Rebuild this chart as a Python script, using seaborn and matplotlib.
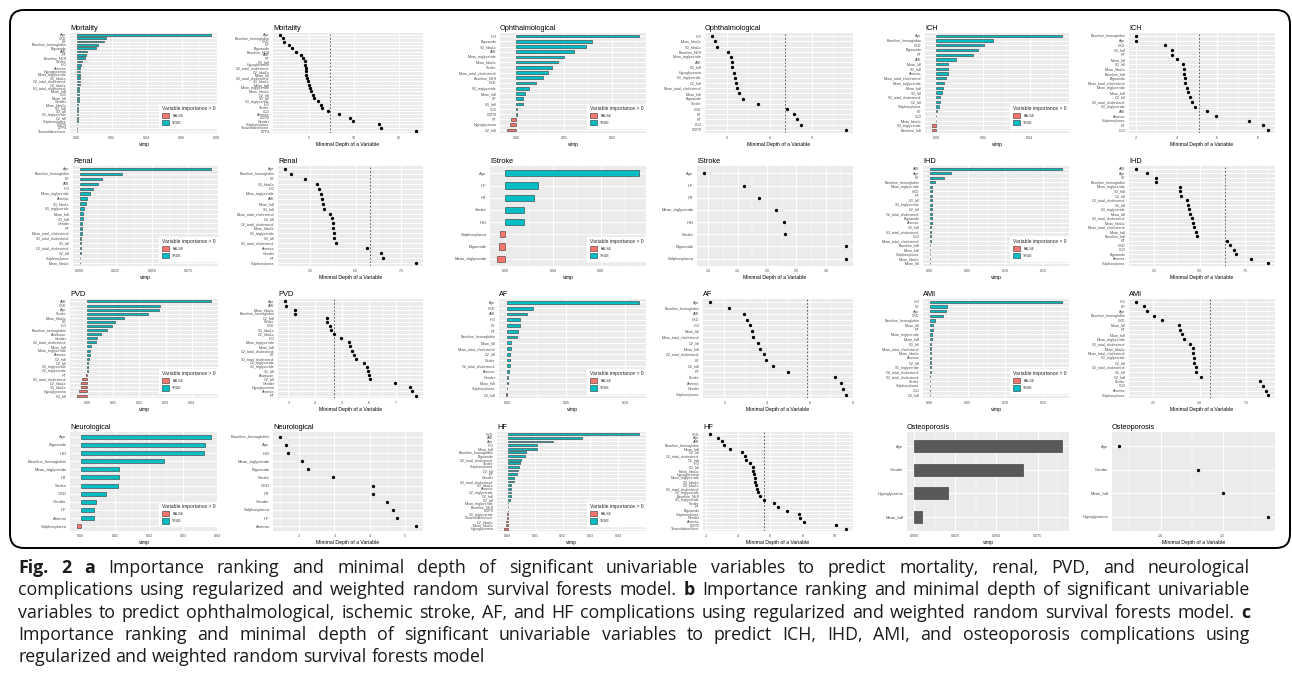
import matplotlib
matplotlib.use('Agg')
import matplotlib.pyplot as plt
from matplotlib.patches import Patch, FancyBboxPatch
import numpy as np
import pandas as pd
import seaborn as sns

# ---- data ----
# Mortality
MORT_VIMP_NAMES = ['Age', 'CKD', 'HF', 'Baseline_hemoglobin', 'Biguanide', 'AMI', 'HT', 'Baseline_NLR',
                   'Stroke', 'IHD', 'Anemia', 'Hypoglycemia', 'Mean_triglyceride', 'SD_hba1c',
                   'CV_total_cholesterol', 'CV_hba1c', 'SD_total_cholesterol', 'Mean_hdl', 'CLD', 'Mean_ldl',
                   'Gender', 'Mean_hba1c', 'SD_hdl', 'SD_ldl', 'SD_triglyceride', 'CV_ldl', 'Sulphonylurea',
                   'COPD', 'DPP4', 'Thiazolidinedione']
MORT_VIMP = [0.077, 0.017, 0.0155, 0.012, 0.0113, 0.006, 0.0055, 0.0045, 0.0028, 0.0024, 0.0021, 0.0020,
             0.0019, 0.0018, 0.0017, 0.0016, 0.0015, 0.0014, 0.0013, 0.0012, 0.0011, 0.0010, 0.0009, 0.0008,
             0.0007, 0.0006, 0.0005, 0.0004, 0.0003, 0.0002]
MORT_DEPTH_NAMES = ['Age', 'Baseline_hemoglobin', 'CKD', 'HF', 'Biguanide', 'Baseline_NLR', 'AMI', 'HT',
                    'SD_hdl', 'Hypoglycemia', 'CV_total_cholesterol', 'CV_hba1c', 'Mean_ldl',
                    'SD_total_cholesterol', 'SD_hba1c', 'Mean_hdl', 'Mean_triglyceride', 'Mean_hba1c',
                    'CV_ldl', 'SD_ldl', 'SD_triglyceride', 'IHD', 'Stroke', 'CLD', 'Anemia', 'COPD', 'Gender',
                    'Sulphonylurea', 'Thiazolidinedione', 'DPP4']
MORT_DEPTH = [1.8, 2.2, 2.25, 2.8, 3.2, 3.6, 4.15, 4.35, 4.55, 4.6, 4.65, 4.7, 4.75, 4.8, 4.9, 5.0, 5.1,
              5.3, 5.45, 5.6, 6.05, 6.4, 6.45, 7.1, 8.3, 9.6, 9.9, 12.8, 13.0, 16.9]
MORT_THRESHOLD = 7.4
MORT_VIMP_TICKS = ['0.00', '0.02', '0.04', '0.06', '0.08']
MORT_DEPTH_TICKS = ['5', '10', '15']

# Ophthalmological
OPH_VIMP_NAMES = ['IHD', 'Biguanide', 'SD_hba1c', 'AMI', 'Mean_triglyceride', 'Mean_hba1c', 'Stroke',
                  'Mean_total_cholesterol', 'Baseline_NLR', 'CKD', 'SD_triglyceride', 'Mean_hdl', 'HF',
                  'SD_hdl', 'CLD', 'COPD', 'HT', 'Hypoglycemia', 'CV_hdl']
OPH_VIMP = [0.0256, 0.0158, 0.0146, 0.0121, 0.0099, 0.0087, 0.0075, 0.0065, 0.0056, 0.0041, 0.0026,
            0.0018, 0.0015, 0.0014, 0.0002, 0.0001, -0.0010, -0.0012, -0.0020]
OPH_DEPTH_NAMES = ['IHD', 'Mean_hba1c', 'SD_hba1c', 'Baseline_NLR', 'Mean_triglyceride', 'AMI', 'SD_hdl',
                   'Hypoglycemia', 'SD_triglyceride', 'CV_hdl', 'Mean_total_cholesterol', 'Mean_hdl',
                   'Biguanide', 'Stroke', 'CKD', 'HF', 'HT', 'CLD', 'COPD']
OPH_DEPTH = [1.9, 2.1, 2.3, 3.05, 3.25, 3.3, 3.35, 3.5, 3.55, 3.6, 3.65, 3.8, 4.1, 5.2, 7.2, 7.7, 7.9,
             8.2, 11.4]
OPH_THRESHOLD = 7.1
OPH_VIMP_TICKS = ['0.00', '0.01', '0.02']
OPH_DEPTH_TICKS = ['3', '6', '9']

# ICH
ICH_VIMP_NAMES = ['Age', 'Baseline_hemoglobin', 'CKD', 'Biguanide', 'HT', 'AMI', 'Mean_ldl', 'SD_hdl',
                  'Anemia', 'Mean_total_cholesterol', 'Mean_triglyceride', 'Mean_hdl', 'SD_ldl',
                  'SD_total_cholesterol', 'CV_ldl', 'Sulphonylurea', 'HF', 'CLD', 'Mean_hba1c',
                  'SD_triglyceride', 'Baseline_hdl']
ICH_VIMP = [0.054, 0.0243, 0.0204, 0.0179, 0.0157, 0.0085, 0.0052, 0.0051, 0.0050, 0.0043, 0.0034,
            0.0028, 0.0023, 0.0018, 0.0017, 0.0011, 0.0003, 0.0001, -0.0003, -0.0018, -0.0020]
ICH_DEPTH_NAMES = ['Baseline_hemoglobin', 'Age', 'CKD', 'SD_hdl', 'HT', 'Mean_ldl', 'SD_ldl', 'Mean_hba1c',
                   'Baseline_hdl', 'Biguanide', 'Mean_total_cholesterol', 'Mean_triglyceride', 'Mean_hdl',
                   'CV_ldl', 'SD_total_cholesterol', 'SD_triglyceride', 'AMI', 'Anemia', 'Sulphonylurea',
                   'HF', 'CLD']
ICH_DEPTH = [2.0, 2.0, 3.45, 3.8, 3.8, 4.05, 4.3, 4.35, 4.38, 4.4, 4.42, 4.5, 4.55, 4.65, 4.75, 4.9, 5.5,
             5.95, 7.55, 8.25, 8.5]
ICH_THRESHOLD = 5.1
ICH_VIMP_TICKS = ['0.00', '0.02', '0.04']
ICH_DEPTH_TICKS = ['2', '4', '6', '8']

# Renal
REN_VIMP_NAMES = ['Age', 'Baseline_hemoglobin', 'HF', 'AMI', 'IHD', 'Mean_triglyceride', 'Anemia',
                  'SD_hba1c', 'SD_triglyceride', 'Mean_hdl', 'SD_hdl', 'Gender', 'HT',
                  'Mean_total_cholesterol', 'SD_total_cholesterol', 'SD_ldl', 'CV_total_cholesterol',
                  'CV_ldl', 'Sulphonylurea', 'Mean_hba1c']
REN_VIMP = [0.091, 0.029, 0.0155, 0.013, 0.0093, 0.0075, 0.0053, 0.0045, 0.003, 0.0025, 0.0023, 0.002,
            0.0018, 0.0014, 0.0013, 0.0011, 0.001, 0.0009, 0.0005, 0.0003]
REN_DEPTH_NAMES = ['Age', 'Baseline_hemoglobin', 'HF', 'SD_hba1c', 'IHD', 'Mean_triglyceride', 'AMI',
                   'Mean_hdl', 'SD_hdl', 'Mean_total_cholesterol', 'CV_ldl', 'CV_total_cholesterol',
                   'Mean_hba1c', 'SD_triglyceride', 'SD_ldl', 'SD_total_cholesterol', 'Anemia', 'Gender',
                   'HT', 'Sulphonylurea']
REN_DEPTH = [1.07, 1.44, 2.22, 2.88, 2.99, 3.1, 3.16, 3.2, 3.25, 3.6, 3.67, 3.73, 3.76, 3.78, 3.81, 3.9,
             5.6, 6.4, 6.5, 8.35]
REN_THRESHOLD = 5.8
REN_VIMP_TICKS = ['0.000', '0.025', '0.050', '0.075']
REN_DEPTH_TICKS = ['2.5', '5.0', '7.5']

# IStroke
IST_VIMP_NAMES = ['Age', 'HF', 'HT', 'Stroke', 'IHD', 'Sulphonylurea', 'Biguanide', 'Mean_triglyceride']
IST_VIMP = [0.112, 0.0277, 0.024, 0.0158, 0.0157, -0.0042, -0.0055, -0.007]
IST_DEPTH_NAMES = ['Age', 'HF', 'HT', 'Mean_triglyceride', 'IHD', 'Stroke', 'Biguanide', 'Sulphonylurea']
IST_DEPTH = [0.93, 1.6, 1.87, 2.16, 2.28, 2.31, 3.34, 3.34]
IST_THRESHOLD = None
IST_VIMP_TICKS = ['0.00', '0.04', '0.08']
IST_DEPTH_TICKS = ['1.0', '1.5', '2.0', '2.5', '3.0']

# IHD
IHD_VIMP_NAMES = ['AMI', 'Age', 'HF', 'Baseline_hemoglobin', 'Mean_triglyceride', 'CKD', 'HT', 'SD_ldl',
                  'SD_triglyceride', 'CV_ldl', 'CV_total_cholesterol', 'Biguanide', 'Anemia', 'SD_hdl',
                  'SD_total_cholesterol', 'CLD', 'Mean_total_cholesterol', 'Baseline_hdl', 'Mean_hdl',
                  'Sulphonylurea', 'Mean_hba1c', 'Mean_ldl']
IHD_VIMP = [0.175, 0.0276, 0.0193, 0.007, 0.0036, 0.0035, 0.0032, 0.0031, 0.003, 0.0029, 0.0028, 0.0026,
            0.0025, 0.0021, 0.002, 0.0016, 0.0013, 0.0011, 0.001, 0.0008, 0.0006, 0.0005]
IHD_DEPTH_NAMES = ['AMI', 'Age', 'HF', 'Baseline_hemoglobin', 'Mean_triglyceride', 'SD_hdl', 'CV_ldl',
                   'CV_total_cholesterol', 'SD_ldl', 'SD_triglyceride', 'Mean_ldl', 'SD_total_cholesterol',
                   'Mean_hba1c', 'Mean_total_cholesterol', 'Mean_hdl', 'Baseline_hdl', 'HT', 'CKD', 'CLD',
                   'Biguanide', 'Anemia', 'Sulphonylurea']
IHD_DEPTH = [1.5, 2.1, 2.6, 2.6, 3.9, 3.95, 4.0, 4.3, 4.37, 4.4, 4.45, 4.6, 4.65, 4.7, 4.8, 4.85, 6.5,
             6.65, 6.9, 7.0, 7.8, 8.75]
IHD_THRESHOLD = 6.4
IHD_VIMP_TICKS = ['0.00', '0.05', '0.10', '0.15']
IHD_DEPTH_TICKS = ['2.5', '5.0', '7.5']

# PVD
PVD_VIMP_NAMES = ['AMI', 'CKD', 'Age', 'Stroke', 'Mean_hba1c', 'HF', 'IHD', 'Baseline_hemoglobin',
                  'Acarbose', 'Gender', 'CV_total_cholesterol', 'Mean_hdl', 'Mean_triglyceride', 'Anemia',
                  'CV_hdl', 'CV_ldl', 'SD_triglyceride', 'CV_triglyceride', 'HT', 'SD_total_cholesterol',
                  'CV_hba1c', 'SD_hba1c', 'Hypoglycemia', 'SD_ldl']
PVD_VIMP = [0.0475, 0.0278, 0.0274, 0.0233, 0.0141, 0.0107, 0.0096, 0.0074, 0.0051, 0.0039, 0.0035,
            0.0014, 0.0011, 0.0009, 0.0006, 0.0005, 0.0004, 0.0003, -0.0006, -0.0018, -0.0023, -0.0025,
            -0.0030, -0.0040]
PVD_DEPTH_NAMES = ['Age', 'AMI', 'Mean_hba1c', 'Baseline_hemoglobin', 'CV_hdl', 'Stroke', 'CKD',
                   'SD_hba1c', 'CV_hba1c', 'IHD', 'Mean_triglyceride', 'Mean_hdl', 'CV_total_cholesterol',
                   'HF', 'SD_total_cholesterol', 'CV_triglyceride', 'SD_triglyceride', 'SD_ldl', 'Acarbose',
                   'CV_ldl', 'Gender', 'Hypoglycemia', 'Anemia', 'HT']
PVD_DEPTH = [2.86, 2.92, 3.25, 3.26, 4.44, 4.45, 4.56, 4.58, 4.7, 4.96, 5.25, 5.3, 5.37, 5.44, 5.5, 5.8,
             5.93, 5.96, 6.0, 6.04, 6.95, 7.5, 7.6, 7.75]
PVD_THRESHOLD = 4.7
PVD_VIMP_TICKS = ['0.00', '0.01', '0.02', '0.03', '0.04']
PVD_DEPTH_TICKS = ['3', '4', '5', '6', '7']

# AF
AF_VIMP_NAMES = ['Age', 'CKD', 'AMI', 'IHD', 'HF', 'HT', 'Baseline_hemoglobin', 'Mean_ldl',
                 'Mean_total_cholesterol', 'CV_ldl', 'Stroke', 'CV_total_cholesterol', 'Anemia', 'Gender',
                 'Mean_hdl', 'Sulphonylurea', 'CV_hdl']
AF_VIMP = [0.112, 0.022, 0.017, 0.011, 0.0107, 0.0088, 0.008, 0.0031, 0.003, 0.0026, 0.0021, 0.002,
           0.0011, 0.0009, 0.0006, -0.0006, -0.0014]
AF_DEPTH_NAMES = ['Age', 'Baseline_hemoglobin', 'AMI', 'CKD', 'IHD', 'Mean_ldl', 'Mean_total_cholesterol',
                  'CV_ldl', 'Mean_hdl', 'CV_total_cholesterol', 'HF', 'CV_hdl', 'HT', 'Stroke', 'Anemia',
                  'Gender', 'Sulphonylurea']
AF_DEPTH = [1.32, 2.24, 2.92, 3.05, 3.2, 3.28, 3.36, 3.57, 3.68, 3.84, 3.97, 4.27, 5.0, 7.2, 7.48, 7.55,
            7.7]
AF_THRESHOLD = 5.85
AF_VIMP_TICKS = ['0.00', '0.05', '0.10']
AF_DEPTH_TICKS = ['2', '4', '6', '8']

# AMI
AMI_VIMP_NAMES = ['IHD', 'HF', 'Age', 'CKD', 'Baseline_hemoglobin', 'Mean_ldl', 'HT', 'Mean_triglyceride',
                  'Mean_hdl', 'SD_ldl', 'Mean_total_cholesterol', 'Mean_hba1c', 'Anemia', 'CV_ldl',
                  'SD_triglyceride', 'CV_total_cholesterol', 'SD_total_cholesterol', 'Stroke',
                  'Sulphonylurea', 'CLD', 'CV_hdl']
AMI_VIMP = [0.175, 0.0225, 0.022, 0.0177, 0.0075, 0.0044, 0.004, 0.003, 0.0027, 0.0018, 0.0017, 0.0016,
            0.0015, 0.0014, 0.0013, 0.0012, 0.0011, 0.001, 0.0008, 0.0006, 0.0005]
AMI_DEPTH_NAMES = ['IHD', 'HF', 'Age', 'Baseline_hemoglobin', 'CKD', 'Mean_ldl', 'HT', 'Mean_hdl',
                   'Mean_triglyceride', 'SD_total_cholesterol', 'Mean_hba1c', 'Mean_total_cholesterol',
                   'SD_triglyceride', 'CV_ldl', 'CV_total_cholesterol', 'SD_ldl', 'CV_hdl', 'Stroke', 'CLD',
                   'Anemia', 'Sulphonylurea']
AMI_DEPTH = [1.55, 1.98, 2.14, 2.55, 2.95, 3.86, 3.95, 4.04, 4.13, 4.5, 4.64, 4.65, 4.67, 4.7, 4.8, 4.82,
             5.05, 8.27, 8.4, 8.58, 8.7]
AMI_THRESHOLD = 5.58
AMI_VIMP_TICKS = ['0.00', '0.05', '0.10', '0.15']
AMI_DEPTH_TICKS = ['2.5', '5.0', '7.5']

# Neurological
NEU_VIMP_NAMES = ['Age', 'Biguanide', 'IHD', 'Baseline_hemoglobin', 'Mean_triglyceride', 'HT', 'Stroke',
                  'CKD', 'Gender', 'HF', 'Anemia', 'Sulphonylurea']
NEU_VIMP = [0.0383, 0.0366, 0.0362, 0.0245, 0.0113, 0.0113, 0.0109, 0.0075, 0.0045, 0.004, 0.0039,
            -0.0012]
NEU_DEPTH_NAMES = ['Baseline_hemoglobin', 'Age', 'IHD', 'Mean_triglyceride', 'Biguanide', 'Stroke', 'CKD',
                   'HT', 'Gender', 'Sulphonylurea', 'HF', 'Anemia']
NEU_DEPTH = [1.46, 1.63, 1.69, 2.08, 2.25, 2.96, 4.09, 4.1, 4.49, 4.66, 4.77, 5.31]
NEU_THRESHOLD = None
NEU_VIMP_TICKS = ['0.00', '0.01', '0.02', '0.03', '0.04']
NEU_DEPTH_TICKS = ['2', '3', '4', '5']

# HF
HF_VIMP_NAMES = ['CKD', 'AMI', 'Age', 'IHD', 'Mean_hdl', 'Baseline_hemoglobin', 'Biguanide',
                 'CV_total_cholesterol', 'Stroke', 'Sulphonylurea', 'CV_ldl', 'HT', 'Gender',
                 'SD_total_cholesterol', 'SD_hba1c', 'Anemia', 'CV_triglyceride', 'CV_hdl', 'SD_ldl',
                 'Mean_triglyceride', 'Baseline_NLR', 'COPD', 'SD_triglyceride', 'Thiazolidinedione',
                 'CV_hba1c', 'Mean_hba1c', 'Hypoglycemia']
HF_VIMP = [0.0477, 0.0271, 0.0166, 0.0108, 0.0105, 0.0068, 0.0064, 0.005, 0.0046, 0.004, 0.0038, 0.0033,
           0.0024, 0.0022, 0.0013, 0.0013, 0.0012, 0.0012, 0.0007, 0.0002, 0.0001, 0.00005, -0.0002,
           -0.0004, -0.0005, -0.0006, -0.0014]
HF_DEPTH_NAMES = ['CKD', 'Age', 'AMI', 'Baseline_hemoglobin', 'Mean_hdl', 'CV_ldl', 'CV_total_cholesterol',
                  'CV_hdl', 'IHD', 'SD_ldl', 'Mean_hba1c', 'Hypoglycemia', 'Mean_triglyceride', 'SD_hba1c',
                  'CV_hba1c', 'SD_total_cholesterol', 'CV_triglyceride', 'Baseline_NLR', 'SD_triglyceride',
                  'Stroke', 'HT', 'Biguanide', 'Sulphonylurea', 'Gender', 'Anemia', 'COPD',
                  'Thiazolidinedione']
HF_DEPTH = [2.25, 2.75, 3.0, 3.1, 3.5, 4.25, 4.45, 4.5, 4.75, 4.9, 4.95, 5.0, 5.05, 5.08, 5.1, 5.15, 5.25,
            5.35, 5.6, 6.25, 6.45, 7.05, 7.75, 7.85, 8.1, 10.05, 10.7]
HF_THRESHOLD = 5.6
HF_VIMP_TICKS = ['0.00', '0.01', '0.02', '0.03', '0.04']
HF_DEPTH_TICKS = ['2', '4', '6', '8', '10']

# Osteoporosis
OST_VIMP_NAMES = ['Age', 'Gender', 'Hypoglycemia', 'Mean_hdl']
OST_VIMP = [0.0897, 0.0663, 0.0205, 0.0048]
OST_DEPTH_NAMES = ['Age', 'Gender', 'Mean_hdl', 'Hypoglycemia']
OST_DEPTH = [0.67, 1.30, 1.50, 1.86]
OST_THRESHOLD = None
OST_VIMP_TICKS = ['0.000', '0.025', '0.050', '0.075']
OST_DEPTH_TICKS = ['1.0', '1.5']

PANELS = [
    [('Mortality', MORT_VIMP_NAMES, MORT_VIMP, MORT_VIMP_TICKS, MORT_DEPTH_NAMES, MORT_DEPTH, MORT_DEPTH_TICKS, MORT_THRESHOLD),
     ('Ophthalmological', OPH_VIMP_NAMES, OPH_VIMP, OPH_VIMP_TICKS, OPH_DEPTH_NAMES, OPH_DEPTH, OPH_DEPTH_TICKS, OPH_THRESHOLD),
     ('ICH', ICH_VIMP_NAMES, ICH_VIMP, ICH_VIMP_TICKS, ICH_DEPTH_NAMES, ICH_DEPTH, ICH_DEPTH_TICKS, ICH_THRESHOLD)],
    [('Renal', REN_VIMP_NAMES, REN_VIMP, REN_VIMP_TICKS, REN_DEPTH_NAMES, REN_DEPTH, REN_DEPTH_TICKS, REN_THRESHOLD),
     ('IStroke', IST_VIMP_NAMES, IST_VIMP, IST_VIMP_TICKS, IST_DEPTH_NAMES, IST_DEPTH, IST_DEPTH_TICKS, IST_THRESHOLD),
     ('IHD', IHD_VIMP_NAMES, IHD_VIMP, IHD_VIMP_TICKS, IHD_DEPTH_NAMES, IHD_DEPTH, IHD_DEPTH_TICKS, IHD_THRESHOLD)],
    [('PVD', PVD_VIMP_NAMES, PVD_VIMP, PVD_VIMP_TICKS, PVD_DEPTH_NAMES, PVD_DEPTH, PVD_DEPTH_TICKS, PVD_THRESHOLD),
     ('AF', AF_VIMP_NAMES, AF_VIMP, AF_VIMP_TICKS, AF_DEPTH_NAMES, AF_DEPTH, AF_DEPTH_TICKS, AF_THRESHOLD),
     ('AMI', AMI_VIMP_NAMES, AMI_VIMP, AMI_VIMP_TICKS, AMI_DEPTH_NAMES, AMI_DEPTH, AMI_DEPTH_TICKS, AMI_THRESHOLD)],
    [('Neurological', NEU_VIMP_NAMES, NEU_VIMP, NEU_VIMP_TICKS, NEU_DEPTH_NAMES, NEU_DEPTH, NEU_DEPTH_TICKS, NEU_THRESHOLD),
     ('HF', HF_VIMP_NAMES, HF_VIMP, HF_VIMP_TICKS, HF_DEPTH_NAMES, HF_DEPTH, HF_DEPTH_TICKS, HF_THRESHOLD),
     ('Osteoporosis', OST_VIMP_NAMES, OST_VIMP, OST_VIMP_TICKS, OST_DEPTH_NAMES, OST_DEPTH, OST_DEPTH_TICKS, OST_THRESHOLD)],
]

CAPTION = [
    [('Fig. 2', True), ('a', True), ('Importance ranking and minimal depth of significant univariable variables to predict mortality, renal, PVD, and neurological', False)],
    [('complications using regularized and weighted random survival forests model.', False), ('b', True), ('Importance ranking and minimal depth of significant univariable', False)],
    [('variables to predict ophthalmological, ischemic stroke, AF, and HF complications using regularized and weighted random survival forests model.', False), ('c', True)],
    [('Importance ranking and minimal depth of significant univariable variables to predict ICH, IHD, AMI, and osteoporosis complications using', False)],
    [('regularized and weighted random survival forests model', False)],
]

# ---- layout (pixels) ----
W, H = 1292, 695
ROW_TOP = [33, 166, 299, 432]
ROW_BOTTOM = [133, 266, 398, 531]
VIMP_LEFT = [[70, 500, 925], [73, 490, 923], [70, 499, 923], [70, 497, 907]]
DEPTH_LEFT = [[273, 705, 1129], [278, 697, 1129], [278, 703, 1129], [273, 703, 1112]]
VIMP_RIGHT = [218, 646, 1069]
DEPTH_RIGHT = [423, 853, 1275]
CAP_LEFT, CAP_RIGHT = 18, 1250

TEAL = '#00BFC4'
RED = '#F8766D'
GREY_BAR = '#595959'
EDGE = '#333333'

sns.set_theme(style='darkgrid')
plt.rcParams['font.family'] = ['Liberation Sans', 'DejaVu Sans']
plt.rcParams['axes.facecolor'] = '#EBEBEB'
plt.rcParams['axes.edgecolor'] = '#EBEBEB'

fig = plt.figure(figsize=(W / 100, H / 100), dpi=100)
fig.patch.set_facecolor('white')


def px_axes(l, t, r, b):
    return fig.add_axes([l / W, 1 - b / H, (r - l) / W, (b - t) / H])


def gg_limits(values, with_zero):
    lo, hi = min(values), max(values)
    if with_zero:
        lo, hi = min(lo, 0), max(hi, 0)
    pad = 0.05 * (hi - lo)
    return lo - pad, hi + pad


def style(ax, n, tick_labels, xlim, title, xlabel):
    ticks = [float(t) for t in tick_labels]
    ax.set_xlim(xlim)
    ax.set_ylim(n - 1 + 0.6, -0.6)
    ax.set_xticks(ticks)
    ax.set_xticklabels(tick_labels)
    step = ticks[1] - ticks[0]
    minors = np.arange(ticks[0] - 10.5 * step, xlim[1], step)
    minors = minors[(minors > xlim[0]) & (minors < xlim[1])]
    ax.set_xticks(minors, minor=True)
    ax.set_axisbelow(True)
    ax.grid(True, which='major', color='white', lw=0.7)
    ax.grid(True, which='minor', axis='x', color='white', lw=0.35)
    ax.tick_params(which='minor', length=0)
    ax.tick_params(which='major', length=1.5, width=0.4, color=EDGE, labelcolor='#4D4D4D', pad=1)
    ax.tick_params(axis='x', labelsize=2.6)
    ax.tick_params(axis='y', labelsize=2.6 if n > 14 else 3.0)
    for s in ax.spines.values():
        s.set_visible(False)
    ax.set_ylabel('')
    ax.set_xlabel(xlabel, fontsize=3.7, labelpad=1, color='black')
    ax.set_title(title, loc='left', fontsize=5.3, pad=2.5, color='black')


for r, row in enumerate(PANELS):
    for c, (title, vn, vv, vt, dn, dv, dt, thr) in enumerate(row):
        # importance bars
        ax = px_axes(VIMP_LEFT[r][c], ROW_TOP[r], VIMP_RIGHT[c], ROW_BOTTOM[r])
        df = pd.DataFrame({'var': vn, 'vimp': vv})
        df['pos'] = np.where(df['vimp'] > 0, 'TRUE', 'FALSE')
        if title == 'Osteoporosis':
            sns.barplot(data=df, x='vimp', y='var', order=vn, color=GREY_BAR, saturation=1,
                        width=0.5, edgecolor=EDGE, linewidth=0.4, errorbar=None, ax=ax)
        else:
            sns.barplot(data=df, x='vimp', y='var', order=vn, hue='pos', hue_order=['FALSE', 'TRUE'],
                        palette={'FALSE': RED, 'TRUE': TEAL}, saturation=1, dodge=False, width=0.5,
                        edgecolor=EDGE, linewidth=0.4, errorbar=None, legend=False, ax=ax)
            handles = [Patch(facecolor=RED, edgecolor=EDGE, lw=0.4, label='FALSE'),
                       Patch(facecolor=TEAL, edgecolor=EDGE, lw=0.4, label='TRUE')]
            leg = ax.legend(handles=handles, title='Variable importance > 0', loc='lower right',
                            bbox_to_anchor=(1.0, 0.05), fontsize=2.6, title_fontsize=3.6, frameon=True,
                            fancybox=False, framealpha=1, facecolor='white', edgecolor='white',
                            handlelength=2.1, handleheight=2.1, borderpad=0.7, labelspacing=0.35,
                            handletextpad=0.8, borderaxespad=0)
            leg._legend_box.align = 'left'
        style(ax, len(vn), vt, gg_limits(vv, True), title, 'vimp')

        # minimal depth dots
        ax = px_axes(DEPTH_LEFT[r][c], ROW_TOP[r], DEPTH_RIGHT[c], ROW_BOTTOM[r])
        dd = pd.DataFrame({'var': dn, 'depth': dv})
        sns.stripplot(data=dd, x='depth', y='var', order=dn, orient='h', jitter=False, color='black',
                      size=2.4, linewidth=0, ax=ax)
        if thr is not None:
            ax.axvline(thr, color=EDGE, lw=0.5, ls=(0, (2.5, 2.5)))
        style(ax, len(dn), dt, gg_limits(dv, False), title, 'Minimal Depth of a Variable')

# ---- frame and caption ----
cap = fig.add_axes([0, 0, 1, 1])
cap.set_xlim(0, W)
cap.set_ylim(H, 0)
cap.axis('off')
cap.set_zorder(-1)
cap.add_patch(FancyBboxPatch((10, 10), 1280, 538, boxstyle='round,pad=0,rounding_size=14',
                             fill=False, ec='black', lw=1.4))

renderer = fig.canvas.get_renderer()
CAP_FONT = dict(family=['Open Sans', 'Noto Sans', 'DejaVu Sans'], fontsize=12.8, color='#1a1a1a')


def text_width(s, bold):
    t = cap.text(0, 0, s, fontweight='bold' if bold else 'normal', **CAP_FONT)
    w = t.get_window_extent(renderer=renderer).width
    t.remove()
    return w


space = text_width('x x', False) - text_width('xx', False)
for i, line in enumerate(CAPTION):
    words = [(w, bold) for s, bold in line for w in s.split(' ')]
    widths = [text_width(w, b) for w, b in words]
    gap = space
    if i < len(CAPTION) - 1:
        gap = max(space, (CAP_RIGHT - CAP_LEFT - sum(widths)) / (len(words) - 1))
    x = CAP_LEFT
    y = 573 + i * 22.3
    for (w, bold), wd in zip(words, widths):
        cap.text(x, y, w, va='baseline', ha='left', fontweight='bold' if bold else 'normal', **CAP_FONT)
        x += wd + gap

fig.savefig('out.png', dpi=100)
